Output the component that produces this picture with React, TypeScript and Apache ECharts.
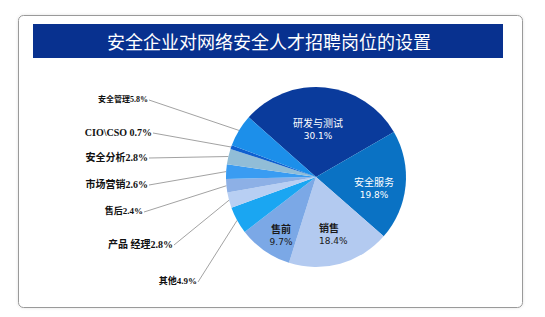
import { useEffect, useRef } from 'react';
import * as echarts from 'echarts';

// Job categories, clockwise from the top-left
const categories = ['研发与测试', '安全服务', '销售', '售前', '其他', '产品经理', '售后', '市场营销', '安全分析', 'CIO\\CSO', '安全管理'];
// Share of positions, percent
const shares = [30.1, 19.8, 18.4, 9.7, 4.9, 2.8, 2.4, 2.6, 2.8, 0.7, 5.8];
// Name as printed on each outside label
const outerNames = ['', '', '', '', '其他', '产品 经理', '售后', '市场营销', '安全分析', 'CIO\\CSO ', '安全管理'];

const sliceColors = ['#0a3b9c', '#0a72c4', '#b3caf0', '#7ba8e6', '#1aa6f2', '#b8cff3', '#8db0e6', '#3a9cf2', '#91bdd7', '#0f5fcf', '#1c8fea'];
const insideCount = 4;
const insideTextColors = ['#ffffff', '#ffffff', '#1a1a1a', '#1a1a1a'];
const outerFontSizes = [0, 0, 0, 0, 9, 10, 9, 10, 10, 10, 8];
// Label anchors in px (inside: text block centre; outside: right end of text)
const labelAnchors: [number, number][] = [
  [318, 129], [374, 188], [319, 234], [281, 235],
  [197, 281], [173, 244], [143, 211], [148, 184], [148, 157], [152, 132], [148, 99],
];

const TITLE = '安全企业对网络安全人才招聘岗位的设置';

export default function App() {
  const ref = useRef<HTMLDivElement>(null);

  useEffect(() => {
    if (!ref.current) return;
    const chart = echarts.init(ref.current, null, { renderer: 'svg' });

    const data = categories.map((name, i) => {
      const inside = i < insideCount;
      return {
        name,
        value: shares[i],
        itemStyle: { color: sliceColors[i] },
        label: inside
          ? {
              formatter: `{n|${name}}\n{p|${shares[i].toFixed(1)}%}`,
              align: i === 2 ? 'left' : 'center',
              rich: {
                n: { fontSize: 10, color: insideTextColors[i], fontFamily: '"Noto Sans CJK SC", sans-serif', lineHeight: 14, align: i === 2 ? 'left' : 'center', fontWeight: i >= 2 ? 'bold' : 'normal' },
                p: { fontSize: 9, color: insideTextColors[i], fontFamily: '"DejaVu Sans", sans-serif', lineHeight: 13, align: i === 2 ? 'left' : 'center' },
              },
            }
          : {
              formatter: `${outerNames[i]}${shares[i].toFixed(1)}%`,
              fontSize: outerFontSizes[i],
              color: '#111111',
              fontFamily: '"Liberation Serif", "Noto Sans CJK SC", serif',
              fontWeight: 'bold',
            },
        labelLine: { show: !inside },
      };
    });

    chart.setOption({
      animation: false,
      graphic: [
        {
          type: 'rect',
          shape: { x: 18.5, y: 15.5, width: 504, height: 292, r: 5 },
          style: { fill: '#ffffff', stroke: '#9a9a9a', lineWidth: 1, shadowBlur: 3, shadowColor: 'rgba(0,0,0,0.12)' },
          z: -10,
        },
        {
          type: 'rect',
          shape: { x: 33, y: 24, width: 470, height: 34 },
          style: { fill: '#08318f' },
          z: -5,
        },
        {
          type: 'text',
          x: 269,
          y: 41,
          style: {
            text: TITLE,
            fill: '#ffffff',
            fontSize: 18,
            fontFamily: '"Noto Sans CJK SC", sans-serif',
            align: 'center',
            verticalAlign: 'middle',
          },
          z: 5,
        },
      ],
      series: [
        {
          type: 'pie',
          center: [316, 177],
          radius: 90,
          startAngle: 138.4,
          clockwise: true,
          avoidLabelOverlap: false,
          label: { show: true, position: 'outside' },
          labelLine: { show: true, length: 10, length2: 10, lineStyle: { color: '#8a8a8a', width: 0.8 } },
          emphasis: { disabled: true },
          labelLayout: (params: any) => {
            const i = params.dataIndex;
            const [x, y] = labelAnchors[i];
            if (i < insideCount) {
              return { x, y, align: i === 2 ? 'left' : 'center', verticalAlign: 'middle' };
            }
            const pts = params.labelLinePoints;
            const start = pts && pts[0] ? pts[0] : [x, y];
            const end = [x + 1, y + 1];
            return {
              x,
              y,
              align: 'right',
              verticalAlign: 'middle',
              labelLinePoints: [start, end, end],
            };
          },
          data,
        },
      ],
    });

    return () => chart.dispose();
  }, []);

  return <div ref={ref} style={{ position: 'absolute', left: 0, top: 0, width: 545, height: 317, background: '#ffffff' }} />;
}
